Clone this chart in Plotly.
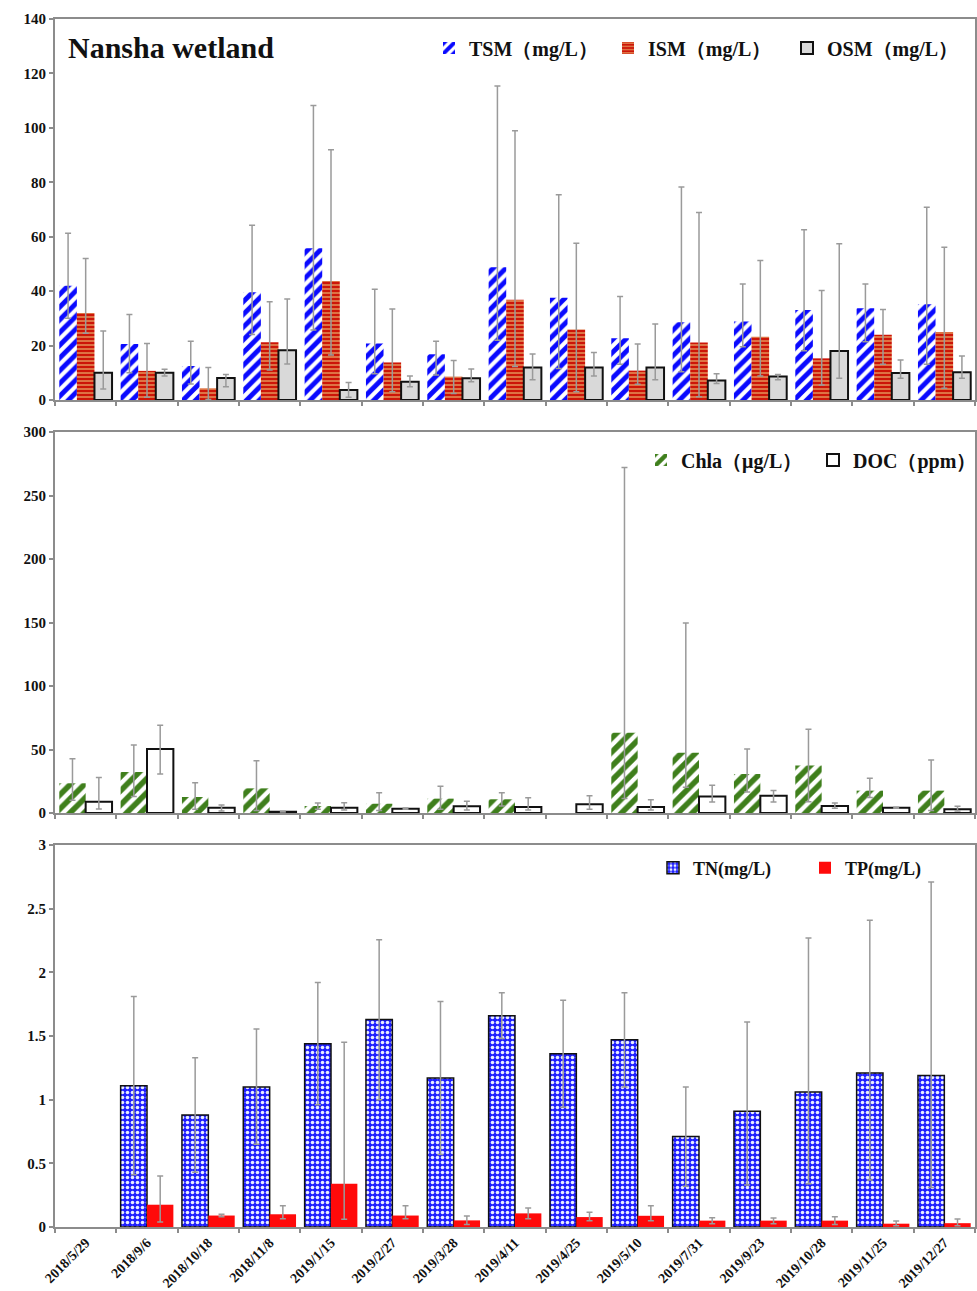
import plotly.graph_objects as go

dates = ['2018/5/29', '2018/9/6', '2018/10/18', '2018/11/8', '2019/1/15', '2019/2/27',
         '2019/3/28', '2019/4/11', '2019/4/25', '2019/5/10', '2019/7/31', '2019/9/23',
         '2019/10/28', '2019/11/25', '2019/12/27']

# Panel 1 (mg/L): mean, upper end of error bar, lower end of error bar
tsm = [42, 20.6, 12.5, 39.6, 55.8, 20.8, 16.8, 48.8, 37.6, 22.7, 28.6, 28.8, 33.1, 33.7, 35.2]
tsm_hi = [61.3, 31.4, 21.6, 64.2, 108.2, 40.7, 21.6, 115.4, 75.4, 38, 78.3, 42.6, 62.6, 42.6, 70.8]
tsm_lo = [30, 10, 5.9, 24.1, 25.7, 9.6, 9.2, 22, 11.6, 13.1, 10.4, 19.6, 18.1, 21.4, 13.1]
ism = [32, 10.7, 4.3, 21.2, 43.7, 13.8, 8.6, 36.8, 25.9, 10.8, 21.1, 23.2, 15.3, 24, 25]
ism_hi = [52, 20.8, 11.9, 36.1, 92, 33.4, 14.5, 98.9, 57.6, 20.6, 68.9, 51.3, 40.2, 33.3, 56.1]
ism_lo = [24.5, 1, 0.2, 11, 16.5, 3, 2.4, 12.3, 3, 5.8, 1.2, 8.8, 5.5, 13.1, 4.3]
osm = [10, 10, 8.1, 18.3, 3.7, 6.7, 8, 11.9, 11.9, 11.9, 7.2, 8.6, 18, 9.9, 10.2]
osm_hi = [25.4, 11.3, 9.4, 37.1, 6.4, 8.8, 11.4, 16.9, 17.5, 27.9, 9.6, 9.4, 57.4, 14.7, 16.2]
osm_lo = [4, 8.8, 4.9, 13.2, 1, 4.9, 6.7, 7.4, 8.8, 7.4, 6.1, 7.4, 8, 8, 8]

# Panel 2
chla = [23.4, 32.3, 12.6, 19.4, 5.5, 7.3, 11.3, 10.8, None, 63.2, 47.5, 30.7, 37.5, 17.6, 17.6]
chla_hi = [42.8, 53.5, 23.9, 41.2, 7.9, 16, 21, 16, None, 272, 149.6, 50.4, 65.9, 27.3, 41.7]
chla_lo = [10, 12.9, 3, 2, 3, 2, 3, 5.5, None, 11.5, 20.2, 16.5, 8.9, 12.3, 2]
doc = [8.9, 50.4, 4.2, 1, 4.2, 3.4, 5.3, 4.7, 6.8, 4.7, 12.9, 13.6, 5.5, 4.2, 2.9]
doc_hi = [28, 69, 6.3, 1.3, 8.1, 3.9, 9.2, 12, 13.6, 10.5, 21.8, 17.8, 7.9, 4.6, 5.3]
doc_lo = [3.1, 30.7, 1.6, 0.7, 2.4, 2.9, 2.4, 2.4, 2.9, 2.4, 8.7, 8.7, 3.7, 3.8, 1.6]

# Panel 3
tn = [None, 1.11, 0.88, 1.10, 1.44, 1.63, 1.17, 1.66, 1.36, 1.47, 0.71, 0.91, 1.06, 1.21, 1.19]
tn_hi = [None, 1.81, 1.33, 1.555, 1.92, 2.255, 1.77, 1.84, 1.78, 1.84, 1.10, 1.61, 2.27, 2.41, 2.71]
tn_lo = [None, 0.41, 0.43, 0.65, 0.96, 1.0, 0.57, 1.48, 0.94, 1.1, 0.32, 0.33, 0.34, 0.37, 0.31]
tp = [None, 0.175, 0.09, 0.10, 0.34, 0.09, 0.052, 0.107, 0.078, 0.088, 0.05, 0.05, 0.05, 0.026, 0.03]
tp_hi = [None, 0.40, 0.10, 0.167, 1.45, 0.167, 0.086, 0.149, 0.115, 0.167, 0.072, 0.07, 0.08, 0.047, 0.063]
tp_lo = [None, 0.04, 0.08, 0.065, 0.06, 0.065, 0.02, 0.065, 0.05, 0.05, 0.026, 0.026, 0.02, 0.01, 0.01]

FONT = "Liberation Serif, Times New Roman, serif"
ERRC = "#9a9a9a"


def err(v, hi, lo):
    plus = [None if a is None else h - a for a, h in zip(v, hi)]
    minus = [None if a is None else a - l for a, l in zip(v, lo)]
    return dict(type="data", symmetric=False, array=plus, arrayminus=minus,
                color=ERRC, thickness=1.5, width=3)


def pat(shape, fg, bg, size, sol):
    return dict(shape=shape, fgcolor=fg, bgcolor=bg, size=size, solidity=sol,
                fillmode="replace", fgopacity=1)


fig = go.Figure()

# ---- Panel 1
fig.add_trace(go.Bar(x=dates, y=tsm, name="TSM（mg/L）", xaxis="x", yaxis="y", legend="legend",
                     marker=dict(color="white", line=dict(width=0),
                                 pattern=pat("/", "#0a0aff", "white", 9, 0.55)),
                     error_y=err(tsm, tsm_hi, tsm_lo)))
fig.add_trace(go.Bar(x=dates, y=ism, name="ISM（mg/L）", xaxis="x", yaxis="y", legend="legend",
                     marker=dict(color="#cc1508", line=dict(width=0),
                                 pattern=pat("-", "#f0d080", "#cc1508", 4, 0.25)),
                     error_y=err(ism, ism_hi, ism_lo)))
fig.add_trace(go.Bar(x=dates, y=osm, name="OSM（mg/L）", xaxis="x", yaxis="y", legend="legend",
                     marker=dict(color="#d9d9d9", line=dict(width=2, color="#111111")),
                     error_y=err(osm, osm_hi, osm_lo)))

# ---- Panel 2
fig.add_trace(go.Bar(x=dates, y=chla, name="Chla（μg/L）", xaxis="x2", yaxis="y2", legend="legend2",
                     marker=dict(color="white", line=dict(width=0),
                                 pattern=pat("/", "#3f7f1c", "white", 10, 0.55)),
                     error_y=err(chla, chla_hi, chla_lo)))
fig.add_trace(go.Bar(x=dates, y=doc, name="DOC（ppm）", xaxis="x2", yaxis="y2", legend="legend2",
                     marker=dict(color="white", line=dict(width=2, color="#111111")),
                     error_y=err(doc, doc_hi, doc_lo)))

# ---- Panel 3
fig.add_trace(go.Bar(x=dates, y=tn, name="TN(mg/L)", xaxis="x3", yaxis="y3", legend="legend3",
                     marker=dict(color="#2020ff", line=dict(width=1.5, color="#111111"),
                                 pattern=pat(".", "#e8ecff", "#2020ff", 5, 0.4)),
                     error_y=err(tn, tn_hi, tn_lo)))
fig.add_trace(go.Bar(x=dates, y=tp, name="TP(mg/L)", xaxis="x3", yaxis="y3", legend="legend3",
                     marker=dict(color="#ff0a0a", line=dict(width=0)),
                     error_y=err(tp, tp_hi, tp_lo)))

H = 1291.0
W = 977.0
xdom = [55 / W, 975 / W]
doms = [[1 - 400 / H, 1 - 19 / H], [1 - 813 / H, 1 - 432 / H], [1 - 1227 / H, 1 - 845 / H]]
tickfont = dict(family=FONT, size=15, color="#111111", weight="bold")
axline = dict(showline=True, linecolor="#8c8c8c", linewidth=2, mirror=True, showgrid=False, zeroline=False)


def xax(anchor, show):
    return dict(domain=xdom, anchor=anchor, type="category", categoryorder="array",
                categoryarray=dates, tickson="boundaries", ticks="outside", ticklen=4,
                tickcolor="#8c8c8c", tickwidth=1.5, showticklabels=show, tickangle=-45,
                tickfont=dict(family=FONT, size=14, color="#111111", weight="bold"),
                automargin=False, **axline)


def yax(dom, rng, dtick, anchor):
    return dict(domain=dom, anchor=anchor, range=rng, dtick=dtick, ticks="outside", ticklen=4,
                tickcolor="#8c8c8c", tickwidth=1.5, tickfont=tickfont, automargin=False, **axline)


leg_font = dict(family=FONT, size=20, color="#111111", weight="bold")

fig.update_layout(
    width=977, height=1291, margin=dict(l=0, r=0, t=0, b=0, autoexpand=False),
    paper_bgcolor="white", plot_bgcolor="white",
    barmode="group", bargap=0.14, bargroupgap=0,
    xaxis=xax("y", False), yaxis=yax(doms[0], [0, 140], 20, "x"),
    xaxis2=xax("y2", False), yaxis2=yax(doms[1], [0, 300], 50, "x2"),
    xaxis3=xax("y3", True), yaxis3=yax(doms[2], [0, 3], 0.5, "x3"),
    legend=dict(orientation="h", x=429 / W, xanchor="left", y=1 - 48 / H, yanchor="middle",
                font=leg_font, bgcolor="rgba(0,0,0,0)", itemwidth=30, entrywidth=134),
    legend2=dict(orientation="h", x=641 / W, xanchor="left", y=1 - 460 / H, yanchor="middle",
                 font=leg_font, bgcolor="rgba(0,0,0,0)", itemwidth=30, entrywidth=127),
    legend3=dict(orientation="h", x=653 / W, xanchor="left", y=1 - 868 / H, yanchor="middle",
                 font=dict(family=FONT, size=18, color="#111111", weight="bold"),
                 bgcolor="rgba(0,0,0,0)", itemwidth=30, entrywidth=107),
    annotations=[dict(text="Nansha wetland", x=66 / W, y=1 - 47 / H, xref="paper", yref="paper",
                      xanchor="left", yanchor="middle", showarrow=False,
                      font=dict(family=FONT, size=30, color="#111111", weight="bold"))],
)

fig.write_html("out.html", config={"displayModeBar": False},
               post_script="document.body.style.margin='0';document.body.style.overflow='hidden';")
